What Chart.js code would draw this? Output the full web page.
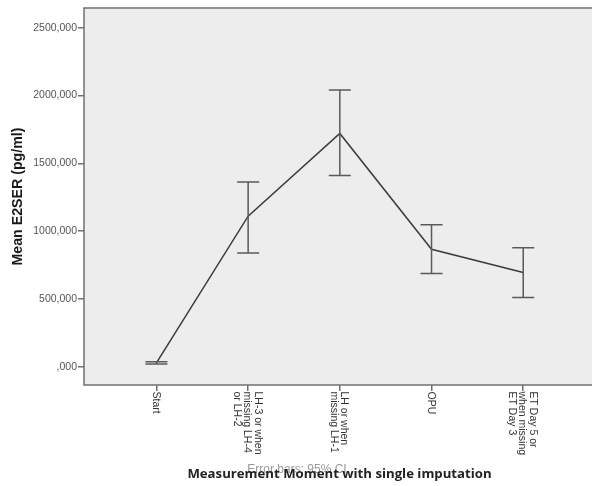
<!DOCTYPE html>
<html>
<head>
<meta charset="utf-8">
<script src="https://cdn.jsdelivr.net/npm/chart.js@4/dist/chart.umd.min.js"></script>
<style>
  html, body { margin: 0; padding: 0; background: #ffffff; }
  #wrap { width: 592px; height: 486px; position: relative; }
</style>
</head>
<body>
<div id="wrap"><canvas id="c"></canvas></div>
<script>
// ---- data ----
const categories = ["Start", "LH-3 or when missing LH-4 or LH-2", "LH or when missing LH-1", "OPU", "ET Day 5 or when missing ET Day 3"];
const tickLabelLines = [
  ["Start"],
  ["LH-3 or when", "missing LH-4", "or LH-2"],
  ["LH or when", "missing LH-1"],
  ["OPU"],
  ["ET Day 5 or", "when missing", "ET Day 3"]
];
const meanValues = [28, 1110, 1720, 866, 695];
const ciLower = [20, 838, 1410, 688, 510];
const ciUpper = [37, 1362, 2040, 1046, 877];
const yTickValues = [0, 500, 1000, 1500, 2000, 2500];
const yTitle = "Mean E2SER (pg/ml)";
const xTitle = "Measurement Moment with single imputation";
const noteText = "Error bars: 95% CI";

const points = meanValues.map((v, i) => ({ x: i, y: v }));

const customDraw = {
  id: 'customDraw',
  beforeDatasetsDraw(chart) {
    const { ctx, chartArea: a } = chart;
    ctx.save();
    ctx.fillStyle = '#ededed';
    ctx.fillRect(a.left, a.top, a.right - a.left, a.bottom - a.top);
    ctx.restore();
  },
  afterDatasetsDraw(chart) {
    const { ctx } = chart;
    const xs = chart.scales.x, ys = chart.scales.y;
    ctx.save();
    ctx.strokeStyle = '#5a5a5a';
    ctx.lineWidth = 1.5;
    const cap = 11;
    for (let i = 0; i < meanValues.length; i++) {
      const px = xs.getPixelForValue(i);
      const yl = ys.getPixelForValue(ciLower[i]);
      const yu = ys.getPixelForValue(ciUpper[i]);
      ctx.beginPath();
      ctx.moveTo(px, yl); ctx.lineTo(px, yu);
      ctx.moveTo(px - cap, yl); ctx.lineTo(px + cap, yl);
      ctx.moveTo(px - cap, yu); ctx.lineTo(px + cap, yu);
      ctx.stroke();
    }
    ctx.restore();
  },
  afterDraw(chart) {
    const { ctx, chartArea: a } = chart;
    const xs = chart.scales.x;
    ctx.save();
    // frame
    ctx.strokeStyle = '#707070';
    ctx.lineWidth = 1.5;
    ctx.beginPath();
    ctx.moveTo(chart.width + 2, a.top);
    ctx.lineTo(a.left, a.top);
    ctx.lineTo(a.left, a.bottom);
    ctx.lineTo(chart.width + 2, a.bottom);
    ctx.stroke();

    // x tick labels rotated clockwise
    ctx.fillStyle = '#333333';
    ctx.font = '10.5px "Liberation Sans", Arial, sans-serif';
    ctx.textAlign = 'left';
    ctx.textBaseline = 'middle';
    const lh = 10.5;
    for (let i = 0; i < tickLabelLines.length; i++) {
      const lines = tickLabelLines[i];
      const px = xs.getPixelForValue(i);
      ctx.save();
      ctx.translate(px - 1, a.bottom + 6.5);
      ctx.rotate(Math.PI / 2);
      lines.forEach((t, k) => {
        ctx.fillText(t, 0, (k - (lines.length - 1) / 2) * lh);
      });
      ctx.restore();
    }

    // y title
    ctx.save();
    ctx.translate(18.5, 196.5);
    ctx.rotate(-Math.PI / 2);
    ctx.textAlign = 'center';
    ctx.textBaseline = 'middle';
    ctx.fillStyle = '#1a1a1a';
    ctx.font = 'bold 14.2px "Liberation Sans", Arial, sans-serif';
    ctx.fillText(yTitle, 0, 0);
    ctx.restore();

    // note text (under title)
    ctx.textAlign = 'center';
    ctx.textBaseline = 'middle';
    ctx.fillStyle = '#9a9a9a';
    ctx.font = '12px "Liberation Sans", Arial, sans-serif';
    ctx.fillText(noteText, 297, 470);

    // x title
    ctx.fillStyle = '#222222';
    ctx.font = 'bold 13.2px "Open Sans", "Noto Sans", sans-serif';
    ctx.fillText(xTitle, 339.5, 474);
    ctx.restore();
  }
};

new Chart(document.getElementById('c'), {
  type: 'line',
  data: {
    datasets: [{
      data: points,
      borderColor: '#3c3c3c',
      borderWidth: 1.5,
      pointRadius: 0,
      pointHoverRadius: 0,
      tension: 0,
      fill: false
    }]
  },
  options: {
    responsive: true,
    maintainAspectRatio: false,
    animation: false,
    devicePixelRatio: 1,
    layout: { padding: { top: 8, right: 0, left: 0, bottom: 0 } },
    plugins: { legend: { display: false }, tooltip: { enabled: false }, title: { display: false } },
    scales: {
      x: {
        type: 'linear',
        min: -0.79,
        max: 4.75,
        afterBuildTicks(scale) { scale.ticks = categories.map((c, i) => ({ value: i })); },
        afterFit(scale) { scale.height = 101; },
        ticks: { callback: () => '', color: 'transparent' },
        grid: { drawOnChartArea: false, drawTicks: true, tickLength: 6, color: '#707070', lineWidth: 1.5 },
        border: { display: false }
      },
      y: {
        min: -135,
        max: 2645,
        afterBuildTicks(scale) { scale.ticks = yTickValues.map(v => ({ value: v })); },
        afterFit(scale) { scale.width = 84; },
        ticks: {
          color: '#555555',
          padding: 1,
          font: { family: '"Liberation Sans", Arial, sans-serif', size: 10.5 },
          callback: (v) => (v === 0 ? ',000' : v + ',000')
        },
        grid: { drawOnChartArea: false, drawTicks: true, tickLength: 6, color: '#707070', lineWidth: 1.5 },
        border: { display: false }
      }
    }
  },
  plugins: [customDraw]
});
</script>
</body>
</html>
